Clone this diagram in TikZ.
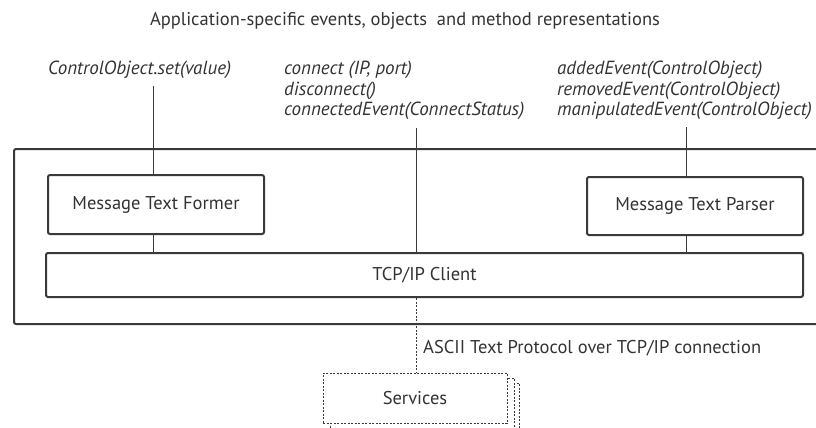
\documentclass[tikz,border=0pt]{standalone}
\usepackage{fontspec}
\setmainfont{PT Sans}
\usetikzlibrary{positioning,calc}
\definecolor{linegray}{HTML}{3A3A3A}
\definecolor{textgray}{HTML}{333333}

\begin{document}
\begin{tikzpicture}[x=1pt, y=-1pt,
  module/.style={draw=linegray, line width=2pt, rounded corners=2pt,
                 fill=white, text=textgray, inner sep=0pt,
                 font=\fontsize{18.5}{20}\selectfont},
  api/.style={anchor=west, align=left, inner sep=0pt, text=textgray,
              font=\fontsize{19}{20.7}\selectfont\itshape},
  note/.style={inner sep=0pt, text=textgray,
               font=\fontsize{18.5}{20}\selectfont},
  link/.style={draw=linegray, line width=1pt},
  wire/.style={draw=linegray, line width=1pt, dash pattern=on 2pt off 1.5pt},
  stack/.style={wire, fill=white, minimum width=184pt, minimum height=50pt,
                inner sep=0pt, text=textgray, font=\fontsize{18.5}{20}\selectfont}
]
  \useasboundingbox (0,0) rectangle (816,428);

  % Title
  \node[note] (title) at (405,21)
    {Application-specific events, objects\ \ and method representations};

  % Outer frame
  \draw[draw=linegray, line width=2pt, rounded corners=2pt]
    (820,149) -- (14,149) -- (14,324) -- (820,324);

  % Modules
  \node[module, minimum width=216pt, minimum height=59pt] (former)
    at (156,204.5) {Message Text Former};
  \node[module, minimum width=216pt, minimum height=58pt] (parser)
    at (695,206) {Message Text Parser};
  \node[module, minimum width=757pt, minimum height=44pt] (tcp)
    at (424.5,275) {TCP/IP Client};

  % Method representations
  \node[api] (setcall) at (48,70) {ControlObject.set(value)};
  \node[api] (conncalls) at (284,90.5)
    {connect (IP, port)\\
     disconnect()\\
     connectedEvent(ConnectStatus)};
  \node[api] (events) at (557,90.5)
    {addedEvent(ControlObject)\\
     removedEvent(ControlObject)\\
     manipulatedEvent(ControlObject)};

  \coordinate (setIn) at (153,86);
  \coordinate (connIn) at (416,128);
  \coordinate (evIn) at (686,127);

  \draw[link] (setIn) -- (setIn |- former.north);
  \draw[link] (former.south -| setIn) -- (setIn |- tcp.north);
  \draw[link] (connIn) -- (connIn |- tcp.north);
  \draw[link] (evIn) -- (evIn |- parser.north);
  \draw[link] (parser.south -| evIn) -- (evIn |- tcp.north);

  % Services
  \node[stack] (svcC) at (427,408) {};
  \node[stack] (svcB) at (422,403) {};
  \node[stack] (svc) at (415,398) {Services};

  \draw[wire] (tcp.south -| connIn) -- (connIn |- svc.north);
  \node[note, anchor=west] (proto) at (423,348)
    {ASCII Text Protocol over TCP/IP connection};
\end{tikzpicture}
\end{document}
